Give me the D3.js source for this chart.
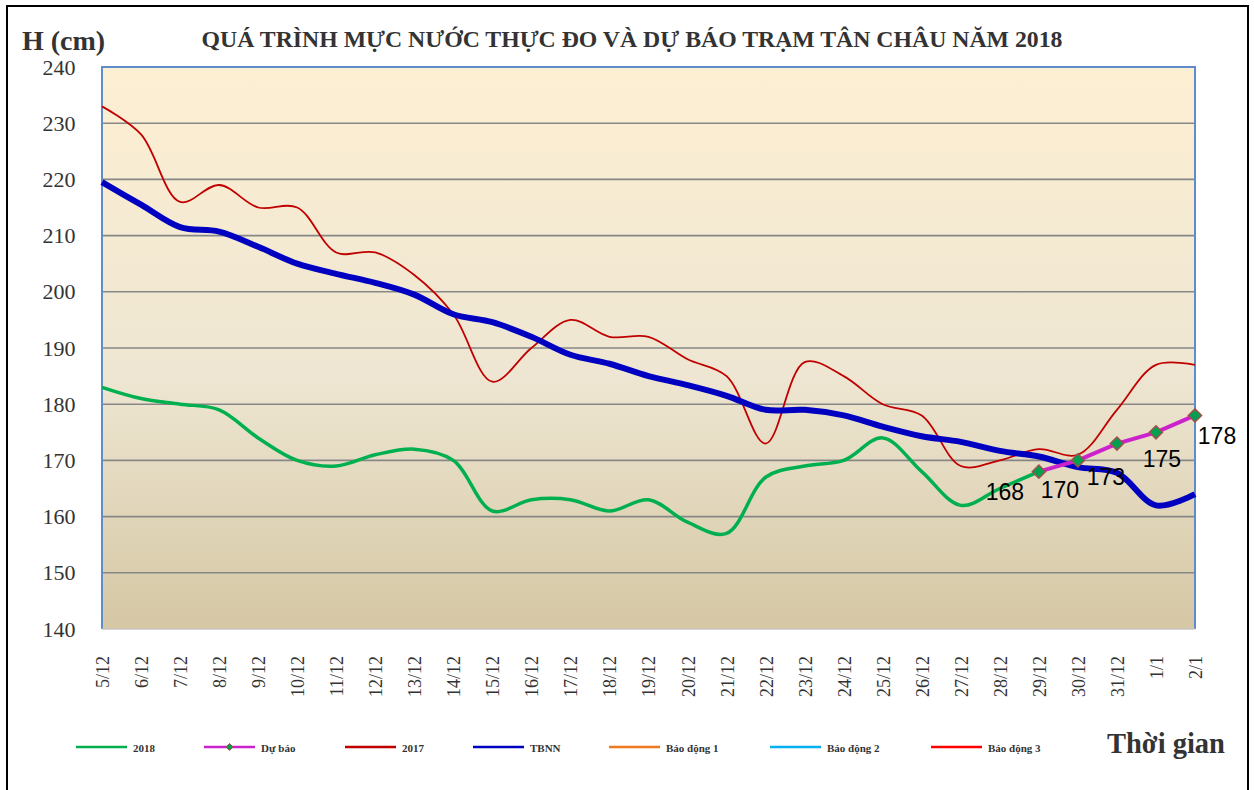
<!DOCTYPE html>
<html><head><meta charset="utf-8">
<script src="https://cdn.jsdelivr.net/npm/d3@7"></script>
<style>html,body{margin:0;padding:0;background:#fff;}svg{display:block;}</style>
</head><body>
<script>
const categories = ["5/12","6/12","7/12","8/12","9/12","10/12","11/12","12/12","13/12","14/12","15/12","16/12","17/12","18/12","19/12","20/12","21/12","22/12","23/12","24/12","25/12","26/12","27/12","28/12","29/12","30/12","31/12","1/1","2/1"];
const s2018 = [183,181,180,179,174,170,169,171,172,170,161,163,163,161,163,159,157,167,169,170,174,168,162,165,168];
const forecastCats = ["29/12","30/12","31/12","1/1","2/1"];
const forecast = [168,170,173,175,178];
const s2017 = [233,228,216,219,215,215,207,207,203,196,184,190,195,192,192,188,185,173,187.5,185,180,178,169,170,172,171,179,187,187];
const tbnn = [219.5,215.5,211.5,210.7,208,205,203.2,201.6,199.5,196,194.6,192,188.8,187.2,185,183.4,181.5,179,179,178,176,174.3,173.3,171.7,170.7,168.8,167.8,162,164];
const yTicks = [140,150,160,170,180,190,200,210,220,230,240];
const legendNames = ["2018","Dự báo","2017","TBNN","Báo động 1","Báo động 2","Báo động 3"];
const legendColors = ["#00B050","#CC22CC","#C00000","#0000C0","#F07820","#00B0F0","#FF0000"];
const title = "QUÁ TRÌNH MỰC NƯỚC THỰC ĐO VÀ DỰ BÁO TRẠM TÂN CHÂU NĂM 2018";

const W = 1254, H = 790;
const L = 102, R = 1195, T = 67, B = 629;
const SERIF = "'Liberation Serif', 'Times New Roman', serif";
const svg = d3.select("body").append("svg").attr("width", W).attr("height", H);

const x = d3.scalePoint().domain(categories).range([L, R]);
const y = d3.scaleLinear().domain([140, 240]).range([B, T]);

// outer frame
svg.append("rect").attr("x", 7).attr("y", 6).attr("width", 1241).attr("height", 820)
  .attr("fill", "none").attr("stroke", "#000").attr("stroke-width", 2);

// gradient background
const defs = svg.append("defs");
const g = defs.append("linearGradient").attr("id", "bg").attr("x1", 0).attr("y1", 0).attr("x2", 0).attr("y2", 1);
g.append("stop").attr("offset", "0%").attr("stop-color", "#FDEFD2");
g.append("stop").attr("offset", "55%").attr("stop-color", "#EEE6D2");
g.append("stop").attr("offset", "100%").attr("stop-color", "#D5C7A4");
svg.append("rect").attr("x", L).attr("y", T).attr("width", R - L).attr("height", B - T).attr("fill", "url(#bg)");

// gridlines
svg.append("g").selectAll("line").data(yTicks.filter(v => v > 140 && v < 240)).join("line")
  .attr("x1", L).attr("x2", R).attr("y1", d => y(d)).attr("y2", d => y(d))
  .attr("stroke", "#878787").attr("stroke-width", 1.6);

// plot border
svg.append("path").attr("d", `M${L},${B}V${T}H${R}V${B}`).attr("fill", "none")
  .attr("stroke", "#5F8DCB").attr("stroke-width", 2);
svg.append("line").attr("x1", L).attr("x2", R).attr("y1", B).attr("y2", B)
  .attr("stroke", "#C9C4C0").attr("stroke-width", 1.5);

// y axis labels
const yAxis = d3.axisLeft(y).tickValues(yTicks).tickSize(0).tickPadding(0);
const ya = svg.append("g").attr("transform", `translate(78,0)`).call(yAxis)
  .attr("font-family", null).attr("font-size", null);
ya.select(".domain").remove();
ya.selectAll("text").style("font-family", SERIF).style("font-size", "22px")
  .attr("fill", "#333").attr("text-anchor", "middle").attr("x", -19);

// x axis labels
const xAxis = d3.axisBottom(x).tickSize(0).tickPadding(0);
const xa = svg.append("g").attr("transform", `translate(0,${B})`).call(xAxis)
  .attr("font-family", null).attr("font-size", null);
xa.select(".domain").remove();
xa.selectAll("text").style("font-family", SERIF).style("font-size", "18px")
  .attr("fill", "#333").attr("text-anchor", "end")
  .attr("transform", "rotate(-90)").attr("x", -27).attr("y", 0).attr("dy", "0.36em");

// lines
const curve = d3.curveCatmullRom.alpha(0.5);
const lineGen = d3.line().x(d => x(d[0])).y(d => y(d[1])).curve(curve);
const zip = (cats, vals) => vals.map((v, i) => [cats[i], v]);

svg.append("path").attr("d", lineGen(zip(categories, s2017))).attr("fill", "none")
  .attr("stroke", "#C00000").attr("stroke-width", 1.8);
svg.append("path").attr("d", lineGen(zip(categories, tbnn))).attr("fill", "none")
  .attr("stroke", "#0000C0").attr("stroke-width", 6);
svg.append("path").attr("d", lineGen(zip(categories, s2018))).attr("fill", "none")
  .attr("stroke", "#00B050").attr("stroke-width", 3.5);

const fcData = zip(forecastCats, forecast);
svg.append("path").attr("d", d3.line().x(d => x(d[0])).y(d => y(d[1]))(fcData)).attr("fill", "none")
  .attr("stroke", "#CC22CC").attr("stroke-width", 4);
const diamond = d3.symbol().type(d3.symbolDiamond2).size(110);
svg.append("g").selectAll("path").data(fcData).join("path")
  .attr("transform", d => `translate(${x(d[0])},${y(d[1])})`)
  .attr("d", diamond).attr("fill", "#00A050").attr("stroke", "#A0504D").attr("stroke-width", 1.5);

// data labels
const lblOff = [[-34, 20], [-18, 30], [-11, 33], [6, 27], [22, 21]];
svg.append("g").selectAll("text").data(fcData).join("text")
  .attr("x", (d, i) => x(d[0]) + lblOff[i][0]).attr("y", (d, i) => y(d[1]) + lblOff[i][1])
  .attr("dy", "0.35em").attr("text-anchor", "middle")
  .attr("font-family", "'Liberation Sans', Arial, sans-serif").attr("font-size", 23).attr("fill", "#000")
  .text(d => d[1]);

// titles
svg.append("text").attr("x", 632).attr("y", 47).attr("text-anchor", "middle")
  .style("font-family", SERIF).attr("font-weight", "bold").style("font-size", "23px")
  .attr("textLength", 861).attr("lengthAdjust", "spacingAndGlyphs")
  .attr("fill", "#333").text(title);
svg.append("text").attr("x", 22).attr("y", 50)
  .style("font-family", SERIF).attr("font-weight", "bold").style("font-size", "28px")
  .attr("fill", "#333").text("H (cm)");
svg.append("text").attr("x", 1107).attr("y", 753)
  .style("font-family", SERIF).attr("font-weight", "bold").style("font-size", "28.5px")
  .attr("fill", "#333").text("Thời gian");

// legend
const legX = [76, 204, 345, 473, 609, 770, 931];
const lg = svg.append("g").selectAll("g").data(legendNames).join("g")
  .attr("transform", (d, i) => `translate(${legX[i]},747)`);
lg.append("line").attr("x1", 0).attr("x2", 51).attr("y1", 0).attr("y2", 0)
  .attr("stroke", (d, i) => legendColors[i]).attr("stroke-width", 2.6);
lg.filter((d, i) => i === 1).append("path").attr("d", d3.symbol().type(d3.symbolDiamond2).size(30))
  .attr("transform", "translate(25.5,0)").attr("fill", "#00A050").attr("stroke", "#A0504D").attr("stroke-width", 1);
lg.append("text").attr("x", 57).attr("y", 5)
  .style("font-family", SERIF).attr("font-weight", "bold").style("font-size", "11px")
  .attr("fill", "#333").text(d => d);
</script>
</body></html>
